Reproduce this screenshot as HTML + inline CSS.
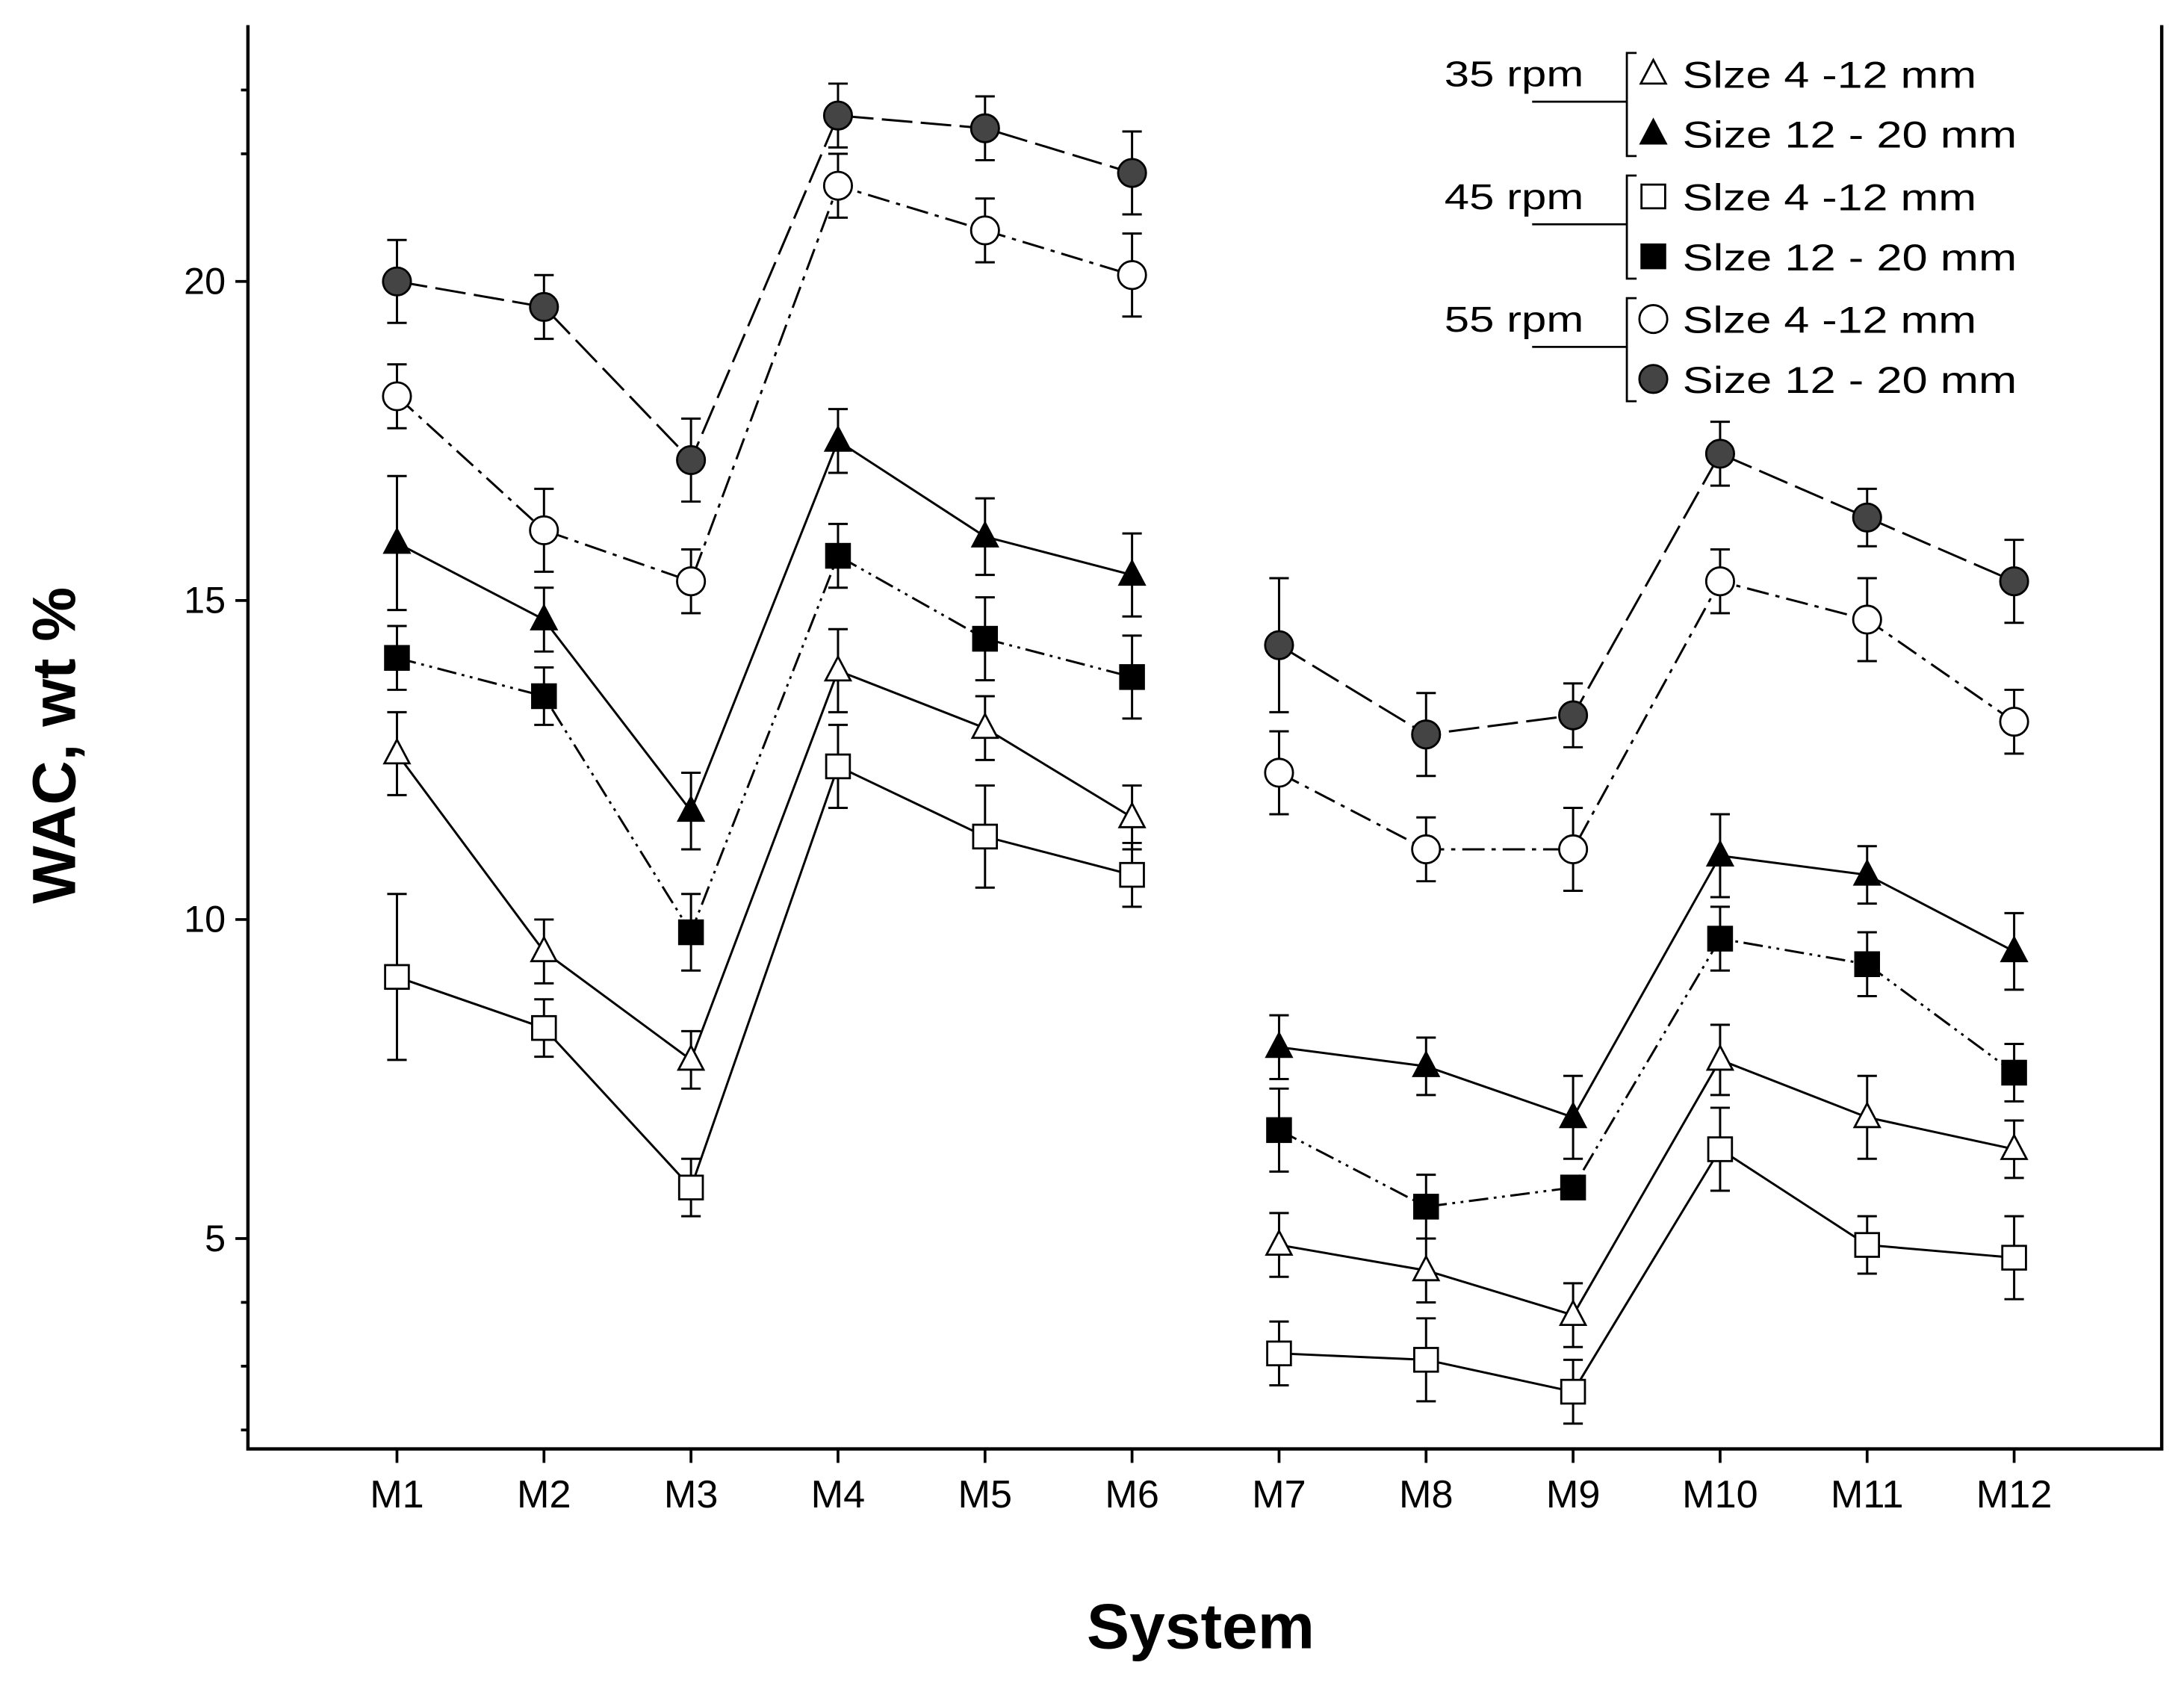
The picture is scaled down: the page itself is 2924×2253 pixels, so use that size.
<!DOCTYPE html>
<html><head><meta charset="utf-8"><style>
html,body{margin:0;padding:0;background:#fff;}
svg{display:block;}
text{font-family:"Liberation Sans",Arial,sans-serif;fill:#000;}
</style></head><body>
<svg id="chart" width="2924" height="2253" viewBox="0 0 1568 1208" preserveAspectRatio="none" xmlns="http://www.w3.org/2000/svg">
<g id="axes"></g>
<g id="series"></g>
<g id="legend"></g>
<text x="54" y="535" transform="rotate(-90 54 535)" text-anchor="middle" font-size="44" font-weight="bold">WAC, wt %</text>
<text x="862" y="1183" text-anchor="middle" font-size="46" font-weight="bold">System</text>
</svg>
<script>
const categories=["M1","M2","M3","M4","M5","M6","M7","M8","M9","M10","M11","M12"];
const yTickLabels=[5,10,15,20];
const yMinorTicks=[2,3,4,22,23];
const t35small=[12.6,9.5,7.8,13.9,13.0,11.6,4.9,4.5,3.8,7.8,6.9,6.4];
const t35smallErr=[0.65,0.5,0.45,0.65,0.5,0.5,0.5,0.5,0.5,0.55,0.65,0.45];
const t35large=[15.9,14.7,11.7,17.5,16.0,15.4,8.0,7.7,6.9,11.0,10.7,9.5];
const t35largeErr=[1.05,0.5,0.6,0.5,0.6,0.65,0.5,0.45,0.65,0.65,0.45,0.6];
const s45small=[9.1,8.3,5.8,12.4,11.3,10.7,3.2,3.1,2.6,6.4,4.9,4.7];
const s45smallErr=[1.3,0.45,0.45,0.65,0.8,0.5,0.5,0.65,0.5,0.65,0.45,0.65];
const s45large=[14.1,13.5,9.8,15.7,14.4,13.8,6.7,5.5,5.8,9.7,9.3,7.6];
const s45largeErr=[0.5,0.45,0.6,0.5,0.65,0.65,0.65,0.5,0.1,0.5,0.5,0.45];
const c55small=[18.2,16.1,15.3,21.5,20.8,20.1,12.3,11.1,11.1,15.3,14.7,13.1];
const c55smallErr=[0.5,0.65,0.5,0.5,0.5,0.65,0.65,0.5,0.65,0.5,0.65,0.5];
const c55large=[20.0,19.6,17.2,22.6,22.4,21.7,14.3,12.9,13.2,17.3,16.3,15.3];
const c55largeErr=[0.65,0.5,0.65,0.5,0.5,0.65,1.05,0.65,0.5,0.5,0.45,0.65];

const NS="http://www.w3.org/2000/svg";
const X0=178,X1=1552,Y0=18,Y1=1040;
function xs(i){return 285+i*105.55;}
function ys(v){return 202+(20-v)*45.8;}
function mk(tag,attrs,parent){const e=document.createElementNS(NS,tag);for(const k in attrs)e.setAttribute(k,attrs[k]);parent.appendChild(e);return e;}

const axes=document.getElementById('axes');
let a=mk('path',{d:`M${X0} ${Y0} V${Y1} H${X1} V${Y0}`,fill:'none',stroke:'#000','stroke-width':2.4},axes);


yTickLabels.forEach(v=>{
  const t=mk('line',{x1:X0-9,x2:X0,y1:ys(v),y2:ys(v),stroke:'#000','stroke-width':2},axes);
  
  
  const l=mk('text',{x:X0-16,y:ys(v)+9,'text-anchor':'end','font-size':27},axes);
  l.textContent=v;
  
  
});
yMinorTicks.forEach(v=>{
  const t=mk('line',{x1:X0-5,x2:X0,y1:ys(v),y2:ys(v),stroke:'#000','stroke-width':2},axes);
  
  
});
categories.forEach((c,i)=>{
  const t=mk('line',{x1:xs(i),x2:xs(i),y1:Y1,y2:Y1+10,stroke:'#000','stroke-width':2},axes);
  
  
  const l=mk('text',{x:xs(i),y:1082,'text-anchor':'middle','font-size':28},axes);
  l.textContent=c;
  
  
});

const seriesG=document.getElementById('series');
const defs=[
 {name:'35rpm-small',vals:t35small,err:t35smallErr,shape:'tri',fill:'#fff',dash:'none'},
 {name:'35rpm-large',vals:t35large,err:t35largeErr,shape:'tri',fill:'#000',dash:'none'},
 {name:'45rpm-small',vals:s45small,err:s45smallErr,shape:'sq',fill:'#fff',dash:'none'},
 {name:'45rpm-large',vals:s45large,err:s45largeErr,shape:'sq',fill:'#000',dash:'14 4 2 4 2 4'},
 {name:'55rpm-small',vals:c55small,err:c55smallErr,shape:'circ',fill:'#fff',dash:'16 5 3 5'},
 {name:'55rpm-large',vals:c55large,err:c55largeErr,shape:'circ',fill:'#444',dash:'22 6'}
];
function marker(g,shape,fill,x,y){
  let m;
  if(shape==='tri') m=mk('polygon',{points:`${x},${y-10} ${x-9},${y+7} ${x+9},${y+7}`,fill:fill,stroke:'#000','stroke-width':1.5},g);
  else if(shape==='sq') m=mk('rect',{x:x-8.5,y:y-8.5,width:17,height:17,fill:fill,stroke:'#000','stroke-width':1.5},g);
  else m=mk('circle',{cx:x,cy:y,r:10,fill:fill,stroke:'#000','stroke-width':1.5},g);
  return m;
}
defs.forEach(s=>{
  const g=mk('g',{},seriesG);
  
  
  [[0,6],[6,12]].forEach(([a0,a1])=>{
    let d='';
    for(let i=a0;i<a1;i++) d+=(i===a0?'M':'L')+xs(i)+' '+ys(s.vals[i]);
    const p=mk('path',{d:d,fill:'none',stroke:'#000','stroke-width':1.6,'stroke-dasharray':s.dash},g);
    
    
  });
  s.vals.forEach((v,i)=>{
    const x=xs(i),e=s.err[i];
    const eb=mk('path',{d:`M${x} ${ys(v+e)} V${ys(v-e)} M${x-7} ${ys(v+e)} H${x+7} M${x-7} ${ys(v-e)} H${x+7}`,stroke:'#000','stroke-width':1.6,fill:'none'},g);
    
    
    const m=marker(g,s.shape,s.fill,x,ys(v));
    
    
  });
});

const leg=document.getElementById('legend');
const groups=[{label:'35 rpm',y:53},{label:'45 rpm',y:141},{label:'55 rpm',y:229}];
groups.forEach((gp,k)=>{
  const t=mk('text',{x:1037,y:gp.y+9,'font-size':26,textLength:100,lengthAdjust:'spacingAndGlyphs'},leg);
  t.textContent=gp.label;
  
  
  const b=mk('path',{d:`M1100 ${gp.y+20} H1168 M1175 ${gp.y-15} H1168 V${gp.y+59} H1175`,fill:'none',stroke:'#000','stroke-width':1.5},leg);
  
  
  const a=defs[k*2],c=defs[k*2+1];
  [[a,gp.y,'Slze 4 -12 mm',211],[c,gp.y+43,k===1?'Slze 12 - 20 mm':'Size 12 - 20 mm',240]].forEach(([s,y,txt,w])=>{
    const m=marker(leg,s.shape,s.fill,1187,y);
    
    
    const l=mk('text',{x:1208,y:y+10,'font-size':27,textLength:w,lengthAdjust:'spacingAndGlyphs'},leg);
    l.textContent=txt;
    
    
  });
});
</script>
</body></html>
